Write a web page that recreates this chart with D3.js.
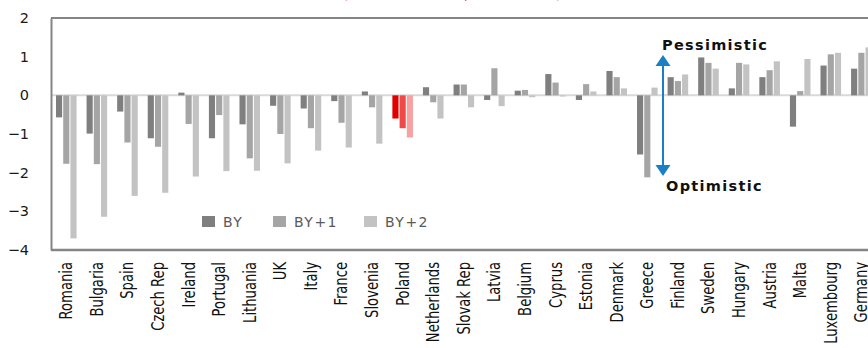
<!DOCTYPE html>
<html>
<head>
<meta charset="utf-8">
<script src="https://cdn.jsdelivr.net/npm/d3@7"></script>
<style>
  html, body { margin: 0; padding: 0; background: #fff; overflow: hidden; }
  svg { display: block; }
</style>
</head>
<body>
<svg id="chart" width="868" height="348"></svg>
<script>
// Countries, sorted by the BY+2 revision
const countries = ["Romania","Bulgaria","Spain","Czech Rep","Ireland","Portugal","Lithuania","UK","Italy","France","Slovenia","Poland","Netherlands","Slovak Rep","Latvia","Belgium","Cyprus","Estonia","Denmark","Greece","Finland","Sweden","Hungary","Austria","Malta","Luxembourg","Germany"];
const seriesNames = ["BY","BY+1","BY+2"];
const valuesBY  = [-0.57,-0.99,-0.42,-1.11,0.07,-1.11,-0.75,-0.27,-0.34,-0.15,0.10,-0.60,0.21,0.28,-0.12,0.12,0.55,-0.12,0.63,-1.53,0.47,0.98,0.18,0.47,-0.81,0.77,0.69];
const valuesBY1 = [-1.77,-1.78,-1.22,-1.33,-0.74,-0.51,-1.63,-1.00,-0.85,-0.71,-0.31,-0.85,-0.18,0.28,0.70,0.14,0.33,0.29,0.47,-2.12,0.37,0.84,0.84,0.65,0.11,1.06,1.10];
const valuesBY2 = [-3.70,-3.14,-2.60,-2.52,-2.10,-1.96,-1.95,-1.76,-1.43,-1.35,-1.25,-1.09,-0.60,-0.31,-0.28,-0.05,-0.03,0.10,0.18,0.20,0.54,0.69,0.80,0.88,0.94,1.10,1.24];
const yTicks = [2,1,0,-1,-2,-3,-4];
const highlight = "Poland";

const greys = ["#7f7f7f","#a5a5a5","#c3c3c3"];
const reds  = ["#e00000","#ee4a4a","#f4a2a2"];

const svg = d3.select("#chart");
const plotLeft = 51, plotTop = 18, plotBottom = 250;
const step = 30.58;

const x0 = d3.scaleBand().domain(countries)
  .range([plotLeft, plotLeft + step * countries.length]).padding(0);
const x1 = d3.scaleBand().domain(seriesNames)
  .range([5, x0.bandwidth() - 5]).paddingInner(0.15);
const y = d3.scaleLinear().domain([-4, 2]).range([plotBottom, plotTop]);

const rows = countries.map((c, i) => ({
  country: c,
  vals: [valuesBY[i], valuesBY1[i], valuesBY2[i]]
}));

// title (sits above the plot)
svg.append("text")
  .attr("x", 452).attr("y", -1)
  .attr("text-anchor", "middle")
  .attr("font-family", "DejaVu Sans, sans-serif")
  .attr("font-size", 14)
  .attr("fill", "#d83030")
  .text("(forecast revision, in % of GDP)");

// top border of the plot area
svg.append("line")
  .attr("x1", plotLeft).attr("x2", 868)
  .attr("y1", plotTop).attr("y2", plotTop)
  .attr("stroke", "#858585").attr("stroke-width", 2);

// zero line
svg.append("line")
  .attr("x1", plotLeft).attr("x2", 868)
  .attr("y1", y(0)).attr("y2", y(0))
  .attr("stroke", "#d9d9d9").attr("stroke-width", 2);

// bars
const groups = svg.append("g").selectAll("g")
  .data(rows).join("g")
  .attr("transform", d => `translate(${x0(d.country)},0)`);

groups.selectAll("rect")
  .data(d => d.vals.map((v, k) => ({ key: seriesNames[k], k, v, country: d.country })))
  .join("rect")
  .attr("x", d => x1(d.key))
  .attr("width", x1.bandwidth())
  .attr("y", d => y(Math.max(0, d.v)))
  .attr("height", d => Math.abs(y(d.v) - y(0)))
  .attr("fill", d => d.country === highlight ? reds[d.k] : greys[d.k]);

// y axis (left border)
const yAxis = svg.append("g")
  .attr("transform", `translate(${plotLeft},0)`)
  .call(d3.axisLeft(y).tickValues(yTicks).tickSize(0).tickPadding(22).tickFormat(d3.format("d")));
yAxis.select(".domain").attr("stroke", "#858585").attr("stroke-width", 2);
yAxis.selectAll("text")
  .attr("font-family", "DejaVu Sans, sans-serif")
  .attr("font-size", 14.5)
  .attr("fill", "#1a1a1a");

// x axis (bottom border); labels are set upright and slightly narrowed
const squeeze = 0.86;
const xAxis = svg.append("g")
  .attr("transform", `translate(0,${plotBottom})`)
  .call(d3.axisBottom(x0).tickSize(0).tickPadding(0));
xAxis.select(".domain")
  .attr("d", `M${plotLeft},0H868`)
  .attr("stroke", "#858585").attr("stroke-width", 2.5);
xAxis.selectAll("text")
  .attr("transform", `rotate(-90) scale(${squeeze},1)`)
  .attr("x", -12 / squeeze).attr("y", 0).attr("dy", "0.35em")
  .attr("text-anchor", "end")
  .attr("font-family", "Liberation Sans Narrow, DejaVu Sans Condensed, sans-serif")
  .attr("font-stretch", "condensed")
  .attr("font-size", 17)
  .attr("fill", "#111");

// legend
const legendX = [202, 273, 364];
const legend = svg.append("g");
seriesNames.forEach((s, k) => {
  legend.append("rect")
    .attr("x", legendX[k]).attr("y", 216)
    .attr("width", 13).attr("height", 11)
    .attr("fill", greys[k]);
  legend.append("text")
    .attr("x", legendX[k] + 21).attr("y", 227)
    .attr("font-family", "DejaVu Sans, sans-serif")
    .attr("font-size", 14)
    .attr("letter-spacing", 1.5)
    .attr("fill", "#595959")
    .text(s);
});

// direction annotation
const ax = 663, blue = "#1b7fc4";
const ann = svg.append("g");
ann.append("line")
  .attr("x1", ax).attr("x2", ax)
  .attr("y1", 64).attr("y2", 167)
  .attr("stroke", blue).attr("stroke-width", 2);
ann.append("path")
  .attr("d", `M${ax},55L${ax - 7.5},66L${ax + 7.5},66Z`)
  .attr("fill", blue);
ann.append("path")
  .attr("d", `M${ax},176L${ax - 7.5},165L${ax + 7.5},165Z`)
  .attr("fill", blue);
ann.append("text")
  .attr("x", 662).attr("y", 50)
  .attr("font-family", "DejaVu Sans, sans-serif")
  .attr("font-weight", "bold").attr("font-size", 14.5)
  .attr("letter-spacing", 1.3)
  .attr("fill", "#111")
  .text("Pessimistic");
ann.append("text")
  .attr("x", 666).attr("y", 191)
  .attr("font-family", "DejaVu Sans, sans-serif")
  .attr("font-weight", "bold").attr("font-size", 14.5)
  .attr("letter-spacing", 1.3)
  .attr("fill", "#111")
  .text("Optimistic");
</script>
</body>
</html>
